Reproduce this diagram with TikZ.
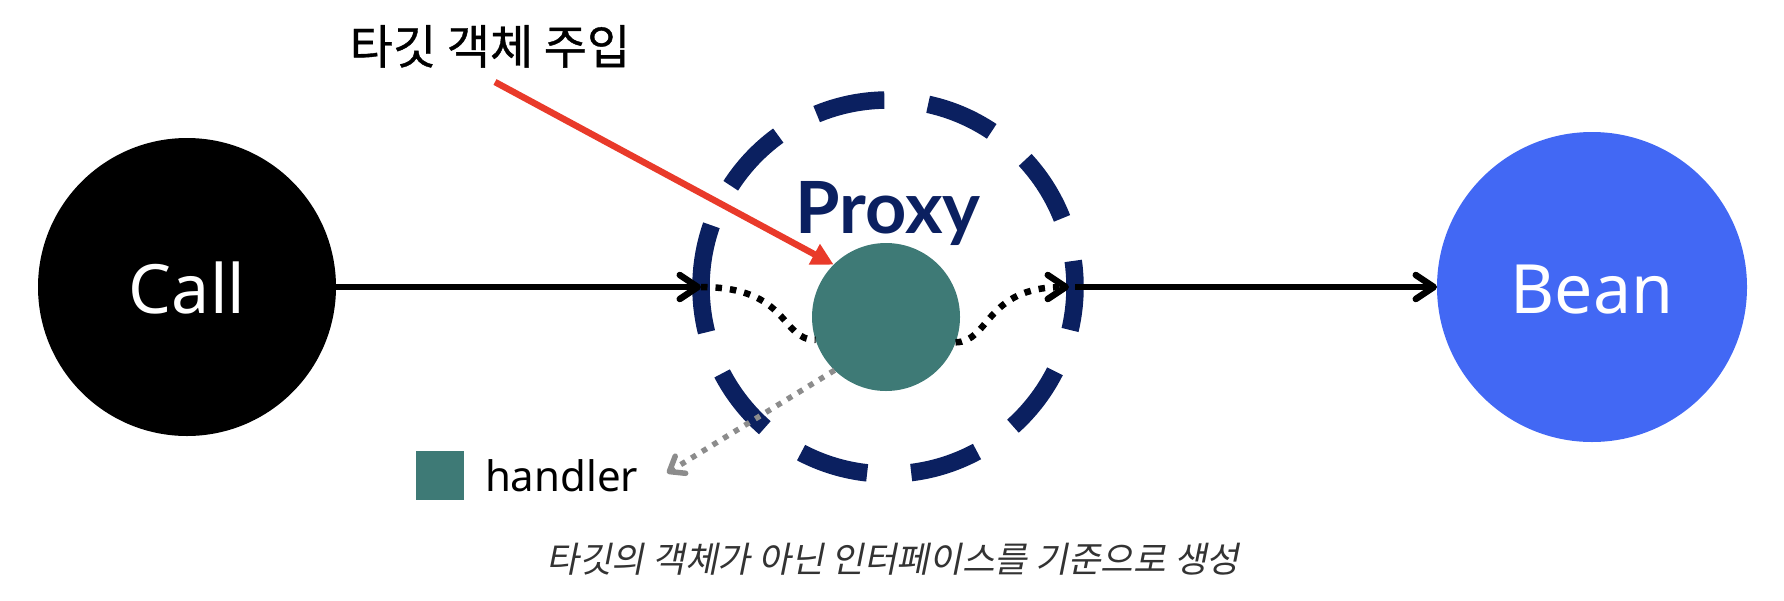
\documentclass[tikz,border=0pt]{standalone}
\usepackage{fontspec}
\usetikzlibrary{arrows.meta}
\newfontfamily\krfont{Noto Sans CJK KR}[FakeBold=0.8]
\newfontfamily\krslant{Noto Sans CJK KR}[FakeSlant=0.2]
\newfontfamily\latinfont{Noto Sans}
\newfontfamily\proxyfont{Lato}
\definecolor{navy}{HTML}{0B2060}
\definecolor{tealc}{HTML}{3E7A76}
\definecolor{beanblue}{HTML}{4268F4}
\definecolor{redc}{HTML}{E93A2A}
\definecolor{grayc}{HTML}{8C8C8C}
\definecolor{capgray}{HTML}{333333}
\begin{document}
\begin{tikzpicture}[x=1pt,y=-1pt,
  disc/.style={circle, inner sep=0pt, outer sep=0pt},
  chev/.style={-{Straight Barb[length=18pt,width=24pt,line cap=round,line join=round]}},
  solidline/.style={line width=6.5pt, black, chev},
  dotline/.style={line width=6.5pt, black, dash pattern=on 6.5pt off 8pt},
  lbl/.style={inner sep=0pt, outer sep=0pt}]
\useasboundingbox (0,0) rectangle (1784,600);
% main nodes
\node[disc, fill=black, minimum size=298pt] (call) at (187,287) {};
\node[disc, fill=beanblue, minimum size=310pt] (bean) at (1592,287) {};
\node[disc, minimum size=374pt] (proxy) at (888,287) {};
\draw[navy, line width=17.5pt, dash pattern=on 69.5pt off 44.1pt, dash phase=23.8pt]
  (proxy.center) ++(180:187) arc[start angle=180, end angle=-180, radius=187];
\node[disc, fill=tealc, minimum size=148pt] (handler) at (886,317) {};
% labels
\node[lbl, anchor=base, text=white, font=\latinfont\fontsize{68}{80}\selectfont] (calltext) at (187,313) {Call};
\node[lbl, anchor=base, text=white, font=\latinfont\fontsize{68}{80}\selectfont] (beantext) at (1592,313) {Bean};
\node[lbl, anchor=base, text=navy, font=\proxyfont\bfseries\fontsize{72}{80}\selectfont] (proxytext) at (888,233) {Proxy};
\node[lbl, anchor=base, font=\krfont\fontsize{47}{55}\selectfont] (title) at (490,64) {타깃 객체 주입};
\node[lbl, anchor=base, text=capgray, font=\krslant\fontsize{35.5}{42}\selectfont] (caption) at (893,572) {타깃의 객체가 아닌 인터페이스를 기준으로 생성};
\node[lbl, fill=tealc, minimum width=48pt, minimum height=49pt] (legendbox) at (440,475) {};
\node[lbl, anchor=base west, font=\latinfont\fontsize{42}{50}\selectfont] (legendtext) at (485,491) {handler};
% connectors
\coordinate (rstart) at (495,82);
\coordinate (hend) at (667,473);
\draw[solidline] (call) -- (proxy.west);
\draw[dotline] (proxy.west) .. controls (790,287) and (780,340) .. (handler.198);
\draw[dotline, chev, shorten >=6pt] (handler.-20) .. controls (990,342) and (985,287) .. (proxy.east);
\draw[solidline] (proxy.east) -- (bean);
\draw[line width=6.5pt, redc, -{Triangle[length=22pt,width=22pt]}] (rstart) -- (handler.135);
\draw[line width=5.5pt, grayc, dash pattern=on 5.5pt off 7pt,
  -{Straight Barb[length=13pt,width=20pt,line cap=round,line join=round]}] (handler.226) -- (hend);
\end{tikzpicture}
\end{document}
